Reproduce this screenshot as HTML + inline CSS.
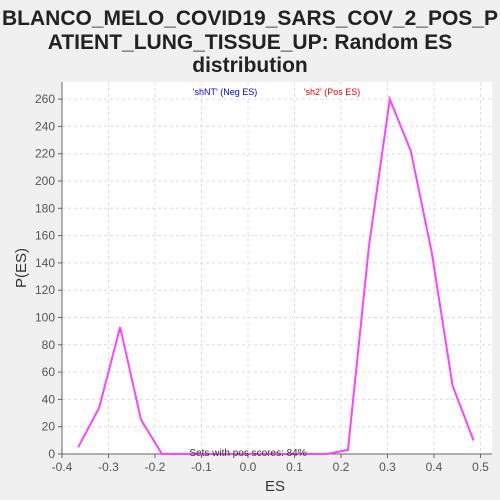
<!DOCTYPE html>
<html><head><meta charset="utf-8"><style>
body{margin:0;background:#f0f0f0;font-family:"Liberation Sans",sans-serif}
svg{display:block}
</style></head><body>
<svg width="500" height="500">
<rect x="0" y="0" width="500" height="500" fill="#f0f0f0"/>
<text x="250" y="25" text-anchor="middle" font-size="21" font-weight="bold" fill="#222">BLANCO_MELO_COVID19_SARS_COV_2_POS_P</text>
<text x="250" y="49" text-anchor="middle" font-size="21" font-weight="bold" fill="#222">ATIENT_LUNG_TISSUE_UP: Random ES</text>
<text x="250" y="72" text-anchor="middle" font-size="21" font-weight="bold" fill="#222">distribution</text>
<rect x="62" y="82" width="430" height="372" fill="#fff"/>
<g id="grid"></g>
<g id="axes"></g>
<text x="225" y="95" text-anchor="middle" font-size="9" fill="#0000ff">'shNT' (Neg ES)</text>
<text x="332" y="95" text-anchor="middle" font-size="9" fill="#ff0000">'sh2' (Pos ES)</text>
<polyline id="line" fill="none" stroke="#ff44ff" stroke-width="2"/>
<text x="248" y="456" text-anchor="middle" font-size="10" fill="#333">Sets with pos scores: 84%</text>
<text x="275" y="491" text-anchor="middle" font-size="15" fill="#333">ES</text>
<text x="26" y="268" text-anchor="middle" font-size="15" fill="#333" transform="rotate(-90 26 268)">P(ES)</text>
</svg>
<script>
const xVals=[-0.365,-0.32,-0.275,-0.23,-0.185,0.17,0.215,0.26,0.305,0.35,0.395,0.44,0.485];
const yVals=[5,34,93,25,0,0,3,152,260,222,148,50,10];
const xTicks=[-0.4,-0.3,-0.2,-0.1,0.0,0.1,0.2,0.3,0.4,0.5];
const yTicks=[0,20,40,60,80,100,120,140,160,180,200,220,240,260];
const X=v=>248+v*465, Y=v=>454-v*1.365;
const ns="http://www.w3.org/2000/svg";
const g=document.getElementById('grid'),a=document.getElementById('axes');
function mk(p,t,at){const e=document.createElementNS(ns,t);for(const k in at)e.setAttribute(k,at[k]);p.appendChild(e);return e;}
xTicks.forEach(t=>{
 const l=mk(g,'line',{x1:X(t),x2:X(t),y1:82,y2:454,stroke:'#ddd','stroke-dasharray':'3,3'});
 
 
 mk(a,'line',{x1:X(t),x2:X(t),y1:454,y2:458,stroke:'#666'});
 const tx=mk(a,'text',{x:X(t),y:471,'text-anchor':'middle','font-size':12,fill:'#555'});
 tx.textContent=t.toFixed(1);
 
 
});
yTicks.forEach(t=>{
 const l=mk(g,'line',{x1:62,x2:492,y1:Y(t),y2:Y(t),stroke:'#ddd','stroke-dasharray':'3,3'});
 
 
 mk(a,'line',{x1:58,x2:62,y1:Y(t),y2:Y(t),stroke:'#666'});
 const tx=mk(a,'text',{x:55,y:Y(t)+4,'text-anchor':'end','font-size':12,fill:'#555'});
 tx.textContent=t;
 
 
});
mk(a,'line',{x1:62,x2:492,y1:454,y2:454,stroke:'#666'});
mk(a,'line',{x1:62,x2:62,y1:82,y2:454,stroke:'#666'});
document.getElementById('line').setAttribute('points',xVals.map((x,i)=>X(x)+','+Y(yVals[i])).join(' '));
</script>
</body></html>
